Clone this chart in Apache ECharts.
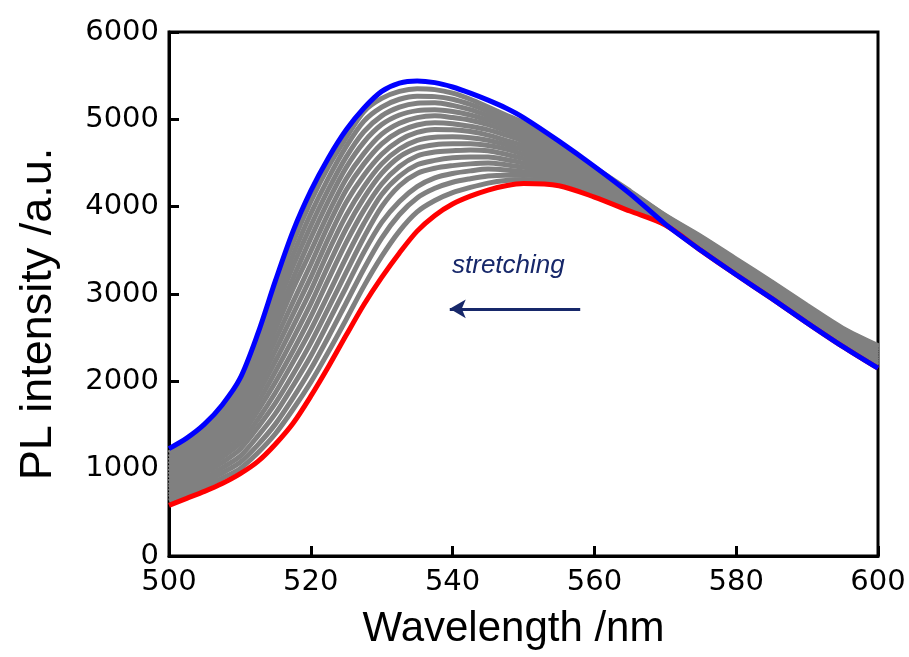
<!DOCTYPE html>
<html>
<head>
<meta charset="utf-8">
<script src="https://cdn.jsdelivr.net/npm/echarts@6/dist/echarts.min.js"></script>
<style>html,body{margin:0;padding:0;background:#fff}#c{width:909px;height:657px}</style>
</head>
<body>
<div id="c"></div>
<script>
const wavelengths = [500,502.5,505,507.5,510,512.5,515,517.5,520,522.5,525,527.5,530,532.5,535,537.5,540,542.5,545,547.5,550,555,560,565,570,575,580,585,590,595,600];
const blueCurve = [1230,1350,1510,1730,2030,2540,3150,3720,4180,4560,4880,5130,5320,5415,5440,5420,5370,5300,5220,5130,5020,4750,4460,4150,3800,3500,3220,2950,2670,2400,2150];
const redCurve  = [580,660,740,830,940,1080,1280,1520,1830,2170,2530,2880,3190,3470,3720,3900,4030,4120,4190,4240,4265,4240,4110,3950,3790,3500,3220,2950,2670,2400,2150];
const grayCurves = [
  [1180,1300,1460,1680,1970,2460,3040,3590,4060,4460,4790,5090,5240,5320,5350,5340,5300,5230,5140,5050,4960,4720,4450,4180,3900,3660,3400,3140,2870,2610,2410],
  [1130,1250,1410,1630,1910,2380,2930,3450,3920,4330,4690,4980,5140,5230,5265,5260,5230,5170,5090,5010,4920,4690,4430,4170,3895,3650,3390,3130,2860,2600,2400],
  [1090,1210,1370,1580,1840,2300,2810,3320,3780,4200,4570,4860,5040,5140,5185,5190,5160,5110,5040,4960,4880,4660,4410,4160,3890,3640,3380,3120,2850,2590,2390],
  [1050,1170,1330,1520,1770,2200,2700,3180,3640,4070,4450,4740,4940,5050,5100,5110,5090,5050,4990,4920,4840,4630,4390,4150,3885,3630,3370,3110,2840,2580,2380],
  [1010,1140,1290,1470,1710,2130,2590,3060,3490,3930,4320,4610,4830,4955,5020,5040,5020,4990,4940,4870,4800,4600,4370,4140,3880,3620,3360,3100,2830,2570,2370],
  [970,1100,1240,1410,1640,2030,2470,2910,3340,3790,4190,4490,4720,4860,4935,4960,4950,4920,4880,4820,4750,4570,4350,4130,3870,3610,3350,3090,2820,2560,2350],
  [930,1050,1190,1350,1570,1940,2350,2770,3190,3640,4050,4360,4600,4760,4850,4885,4880,4860,4820,4760,4700,4540,4330,4120,3860,3600,3340,3080,2810,2550,2340],
  [890,1010,1140,1300,1500,1850,2230,2630,3040,3490,3900,4230,4490,4660,4760,4795,4800,4790,4760,4710,4650,4510,4310,4100,3850,3590,3330,3070,2800,2530,2320],
  [850,965,1090,1240,1430,1750,2110,2490,2890,3330,3750,4100,4380,4570,4670,4710,4720,4720,4700,4660,4600,4480,4290,4090,3840,3580,3320,3060,2790,2520,2300],
  [810,920,1040,1180,1360,1660,1990,2350,2740,3170,3590,3960,4260,4460,4580,4625,4640,4650,4640,4600,4550,4450,4270,4080,3830,3570,3310,3050,2780,2500,2280],
  [780,880,990,1130,1290,1560,1870,2220,2590,3000,3420,3810,4140,4350,4480,4530,4560,4570,4570,4540,4500,4420,4250,4060,3820,3560,3300,3040,2770,2490,2260],
  [740,835,940,1070,1220,1470,1750,2080,2440,2840,3250,3650,4000,4240,4380,4440,4470,4490,4500,4480,4450,4390,4230,4050,3810,3550,3290,3030,2750,2470,2240],
  [700,790,890,1010,1140,1370,1630,1950,2290,2680,3080,3480,3820,4060,4230,4330,4380,4410,4430,4420,4400,4360,4210,4030,3805,3540,3280,3020,2740,2460,2220],
  [670,750,840,950,1070,1270,1510,1810,2140,2510,2900,3290,3640,3910,4100,4210,4280,4320,4350,4360,4360,4330,4190,4010,3800,3530,3270,3000,2720,2440,2200],
  [630,705,790,890,1000,1180,1400,1680,1990,2340,2710,3090,3430,3720,3940,4070,4160,4220,4270,4300,4310,4290,4160,3990,3795,3520,3250,2980,2700,2420,2180]
];
const arrowStart = [558, 2830];
const arrowEnd = [539.6, 2830];
const annotationText = 'stretching';
const xTitle = 'Wavelength /nm';
const yTitle = 'PL intensity /a.u.';

const zip = (ys) => wavelengths.map((x, i) => [x, ys[i]]);
const SM = 0.3;
const series = [];
grayCurves.forEach((c, i) => {
  series.push({type:'line', name:'gray'+i, data: zip(c), smooth:SM, showSymbol:false, symbol:'none',
    lineStyle:{color:'#808080', width:5}, z:2, silent:true});
});
series.push({type:'line', name:'red', data: zip(redCurve), smooth:SM, symbol:'none', lineStyle:{color:'#ff0000', width:5}, z:3});
series.push({type:'line', name:'blue', data: zip(blueCurve), smooth:SM, symbol:'none', lineStyle:{color:'#0000ff', width:5}, z:4,
  markLine:{silent:true, symbol:['none','arrow'], symbolSize:[14,16], label:{show:false},
    lineStyle:{color:'#17286a', width:3, type:'solid'},
    data:[[{coord:arrowStart},{coord:arrowEnd}]]}});

const chart = echarts.init(document.getElementById('c'), null, {renderer:'canvas'});
chart.setOption({
  animation:false,
  backgroundColor:'#fff',
  grid:{left:169, right:31, top:32, bottom:101, show:true, borderColor:'#000', borderWidth:3},
  xAxis:{type:'value', min:500, max:600, interval:20,
    name:xTitle, nameLocation:'middle', nameGap:52,
    nameTextStyle:{fontFamily:'Liberation Sans, Arial', fontSize:42, color:'#000', padding:[0,20,0,0]},
    axisLine:{show:true, lineStyle:{color:'#000', width:3}},
    axisTick:{show:true, inside:true, length:10, lineStyle:{color:'#000', width:3}},
    axisLabel:{fontFamily:'DejaVu Sans', fontSize:29, color:'#000', margin:12, formatter:(v)=>String(v)},
    splitLine:{show:false}},
  yAxis:{type:'value', min:0, max:6000, interval:1000,
    name:yTitle, nameLocation:'middle', nameGap:108,
    nameTextStyle:{fontFamily:'Liberation Sans, Arial', fontSize:45, color:'#000', padding:[0,40,0,0]},
    axisLine:{show:true, lineStyle:{color:'#000', width:3}},
    axisTick:{show:true, inside:true, length:10, lineStyle:{color:'#000', width:3}},
    axisLabel:{fontFamily:'DejaVu Sans', fontSize:29, color:'#000', margin:10, formatter:(v)=>String(v)},
    splitLine:{show:false}},
  graphic:[{type:'text', left:452, top:253, z:10,
    style:{text:annotationText, fontFamily:'Liberation Sans, Arial', fontStyle:'italic', fontSize:26, fill:'#17286a'}}],
  series: series
});
</script>
</body>
</html>
